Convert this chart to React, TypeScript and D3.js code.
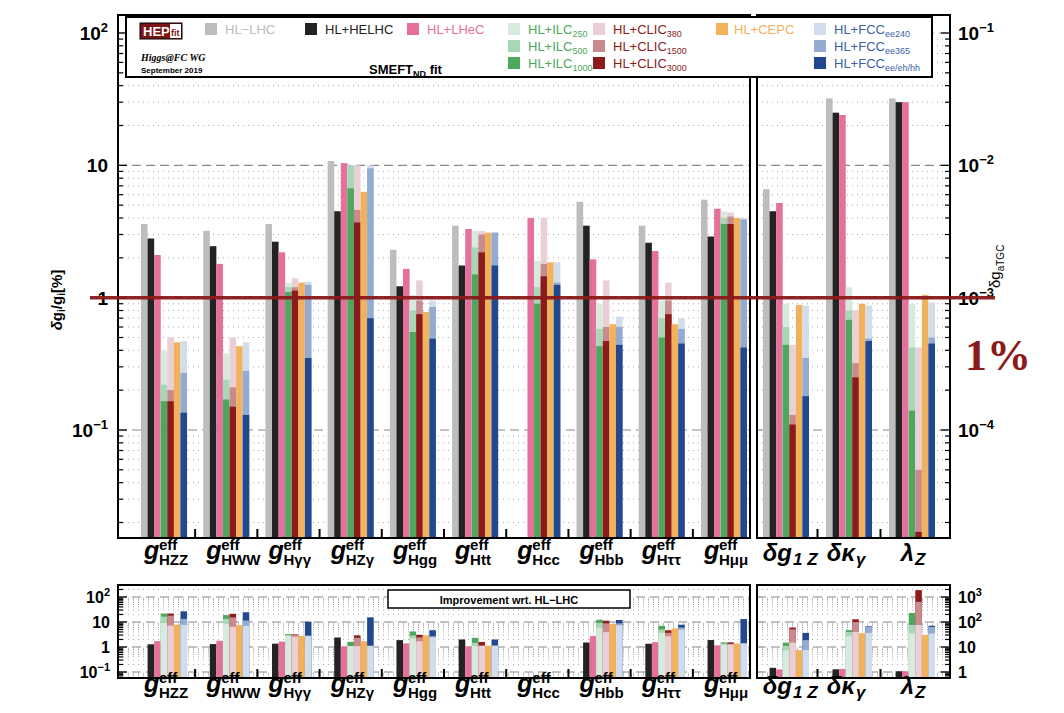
import React from "react";
import * as d3 from "d3";

// groups: HZZ HWW Hγγ HZγ Hgg Htt Hcc Hbb Hττ Hμμ (left) + δg1Z δκγ λZ (right)
const labelsMain = ["HZZ", "HWW", "Hγγ", "HZγ", "Hgg", "Htt", "Hcc", "Hbb", "Hττ", "Hμμ"];
const labelsTGC = [["δg", "1 Z"], ["δκ", "γ"], ["λ", "Z"]];
const hllhc = [3.6, 3.2, 3.6, 10.8, 2.3, 3.5, NaN, 5.3, 3.5, 5.5, 6.6, 32, 32];
const helhc = [2.8, 2.45, 2.65, 4.5, 1.22, 1.75, NaN, 3.5, 2.6, 2.9, 4.5, 25, 30];
const lhec = [2.1, 1.8, 2.2, 10.4, 1.65, 3.3, 4.0, 1.95, 2.25, 4.7, 5.2, 24, 30];
const ilc250 = [0.4, 0.38, 1.3, 10, 1.05, 3.2, 1.9, 0.9, 0.95, 4.5, 0.9, 1.2, 0.9];
const ilc500 = [0.22, 0.24, 1.2, 10, 0.8, 2.4, 1.2, 0.58, 0.7, 4.0, 0.6, 0.8, 0.42];
const ilc1000 = [0.165, 0.17, 1.1, 6.7, 0.55, 1.5, 0.9, 0.43, 0.5, 3.6, 0.44, 0.68, 0.14];
const clic380 = [0.5, 0.5, 1.4, 10, 1.35, 3.2, 4.0, 1.35, 1.3, 4.4, 0.44, 0.8, 0.42];
const clic1500 = [0.2, 0.21, 1.2, 4.6, 0.95, 3.0, 1.8, 0.6, 0.95, 4.1, 0.13, 0.32, 0.05];
const clic3000 = [0.165, 0.15, 1.13, 3.7, 0.75, 2.2, 1.45, 0.47, 0.75, 3.6, 0.11, 0.25, 0.017];
const cepc = [0.46, 0.43, 1.3, 6.3, 0.78, 3.1, 1.85, 0.63, 0.63, 4.0, 0.88, 0.9, 1.05];
const fcc240 = [0.47, 0.46, 1.32, 10, 0.95, 3.1, 1.85, 0.72, 0.7, 4.0, 0.87, 0.87, 0.92];
const fcc365 = [0.27, 0.28, 1.25, 9.5, 0.85, 3.1, 1.3, 0.6, 0.58, 3.9, 0.35, 0.49, 0.5];
const fccAll = [0.135, 0.13, 0.35, 0.7, 0.49, 1.75, 1.25, 0.44, 0.45, 0.42, 0.18, 0.47, 0.45];

const C = {
  lhc: "#bdbdbd", he: "#232323", lhec: "#e4709b",
  ilc: ["#d6ebdd", "#a6d8b5", "#4da75c"],
  clic: ["#ead0d6", "#c98a8e", "#8c1b1c"],
  cepc: "#f2b15b",
  fcc: ["#d2ddeb", "#93abd2", "#22498f"],
};

export default function App() {
  const W = 1064, H = 713;
  const L0 = 118, L1 = 750, R0 = 757, R1 = 950;
  const T = 15, B = 538;
  const bT = 585, bB = 678;
  const xL = d3.scaleBand<number>().domain(d3.range(10)).range([141, 747]).paddingInner(0.26).paddingOuter(0);
  const xR = d3.scaleBand<number>().domain([10, 11, 12]).range([763, 935]).paddingInner(0.27).paddingOuter(0);
  const gx = (i: number) => (i < 10 ? xL(i)! : xR(i)!);
  const gw = (i: number) => (i < 10 ? xL.bandwidth() : xR.bandwidth());
  const slot = (i: number) => d3.scaleBand<number>().domain(d3.range(7)).range([gx(i), gx(i) + gw(i)]);
  const y = d3.scaleLog().domain([0.01527, 136.8]).range([B, T]);
  const ybL = d3.scaleLog().domain([0.0575, 302]).range([bB, bT]);
  const ybR = d3.scaleLog().domain([0.575, 3020]).range([bB, bT]);

  const bars: any[] = [];
  const bbars: any[] = [];
  for (let i = 0; i < 13; i++) {
    const s = slot(i);
    const w = s.bandwidth();
    const add = (k: number, v: number, col: string) => {
      if (!isFinite(v)) return;
      bars.push(<rect key={`m${i}-${bars.length}`} x={s(k)} y={y(v)} width={w} height={B - y(v)} fill={col} />);
    };
    add(0, hllhc[i], C.lhc);
    add(1, helhc[i], C.he);
    add(2, lhec[i], C.lhec);
    [ilc250, ilc500, ilc1000].forEach((a, j) => add(3, a[i], C.ilc[j]));
    [clic380, clic1500, clic3000].forEach((a, j) => add(4, a[i], C.clic[j]));
    add(5, cepc[i], C.cepc);
    [fcc240, fcc365, fccAll].forEach((a, j) => add(6, a[i], C.fcc[j]));
    const ref = hllhc[i];
    if (isFinite(ref)) {
      const yb = i < 10 ? ybL : ybR;
      const addb = (k: number, v: number, col: string) => {
        const top = Math.max(yb(ref / v), bT);
        bbars.push(<rect key={`b${i}-${bbars.length}`} x={s(k)} y={top} width={w} height={bB - top} fill={col} />);
      };
      addb(1, helhc[i], C.he);
      addb(2, lhec[i], C.lhec);
      [ilc1000, ilc500, ilc250].forEach((a, j) => addb(3, a[i], C.ilc[2 - j]));
      [clic3000, clic1500, clic380].forEach((a, j) => addb(4, a[i], C.clic[2 - j]));
      addb(5, cepc[i], C.cepc);
      [fccAll, fcc365, fcc240].forEach((a, j) => addb(6, a[i], C.fcc[2 - j]));
    }
  }

  const grid = (sc: any, x0: number, x1: number, lo: number, hi: number, key: string) => {
    const out: any[] = [];
    for (let e = lo; e <= hi; e++) for (let m = 1; m <= 9; m++) {
      const yy = sc(m * Math.pow(10, e));
      if (yy < sc.range()[1] || yy > sc.range()[0]) continue;
      out.push(<line key={`${key}${e}-${m}`} x1={x0} x2={x1} y1={yy} y2={yy}
        stroke={m === 1 ? "#888" : "#aaa"} strokeWidth={m === 1 ? 1.2 : 1}
        strokeDasharray={m === 1 ? "9,5" : "1,4"} />);
    }
    return out;
  };
  const ticks = (sc: any, x: number, dir: number, lo: number, hi: number, key: string) => {
    const out: any[] = [];
    for (let e = lo; e <= hi; e++) for (let m = 1; m <= 9; m++) {
      const yy = sc(m * Math.pow(10, e));
      if (yy < sc.range()[1] || yy > sc.range()[0]) continue;
      out.push(<line key={`${key}${e}-${m}`} x1={x} x2={x + dir * (m === 1 ? 9 : 5)} y1={yy} y2={yy} stroke="#000" strokeWidth={1.2} />);
    }
    return out;
  };

  const xLabel = (i: number, yy: number, key: string) => {
    const cx = gx(i) + gw(i) / 2;
    if (i < 10) {
      return (
        <g key={key} fontFamily="Liberation Sans, Arial" fontWeight="bold">
          <text x={cx - 20} y={yy + 6} fontSize={25} fontStyle="italic">g</text>
          <text x={cx - 5} y={yy - 3} fontSize={15}>eff</text>
          <text x={cx - 5} y={yy + 12} fontSize={15}>{labelsMain[i]}</text>
        </g>
      );
    }
    const m = labelsTGC[i - 10];
    return (
      <g key={key} fontFamily="Liberation Sans, Arial" fontWeight="bold" fontStyle="italic">
        <text x={cx + (i === 12 ? 2 : 6)} y={yy + 8} fontSize={24} textAnchor="end">{m[0]}</text>
        <text x={cx + (i === 12 ? 3 : 7)} y={yy + 12} fontSize={17}>{m[1]}</text>
      </g>
    );
  };

  const tickBottom = (yy: number) => {
    const out: any[] = [];
    for (let k = 0; k < 12; k++) {
      if (k === 9) continue;
      const xx = (gx(k) + gw(k) + gx(k + 1)) / 2;
      out.push(<line key={`tb${yy}${k}`} x1={xx} x2={xx} y1={yy} y2={yy - 9} stroke="#000" strokeWidth={2} />);
    }
    return out;
  };

  const legendItems: [number, number, string, string][] = [
    [205, 30, C.lhc, "HL−LHC"],
    [305, 30, C.he, "HL+HELHC"],
    [407, 30, C.lhec, "HL+LHeC"],
  ];
  const multi: [number, string[], string, string, string][] = [
    [508, C.ilc, "HL+ILC", "#4da75c", "250,500,1000"],
    [593, C.clic, "HL+CLIC", "#8c1b1c", "380,1500,3000"],
    [814, C.fcc, "HL+FCC", "#3a5fa3", "ee240,ee365,ee/eh/hh"],
  ];

  return (
    <svg width={W} height={H} style={{ position: "absolute", left: 0, top: 0, background: "#fff" }}>
      {grid(y, L0, L1, -2, 2, "gl")}
      {grid(y, R0, R1, -2, 2, "gr")}
      {grid(ybL, L0, L1, -2, 2, "bl")}
      {grid(ybR, R0, R1, -1, 3, "br")}
      {bars}
      {bbars}
      {ticks(y, L0, 1, -2, 2, "tl")}
      {ticks(y, R1, -1, -2, 2, "tr")}
      {ticks(ybL, L0, 1, -2, 2, "tbl")}
      {ticks(ybR, R1, -1, -1, 3, "tbr")}
      {tickBottom(B)}
      {tickBottom(bB)}
      <rect x={L0} y={T} width={L1 - L0} height={B - T} fill="none" stroke="#000" strokeWidth={2} />
      <rect x={R0} y={T} width={R1 - R0} height={B - T} fill="none" stroke="#000" strokeWidth={2} />
      <rect x={L0} y={bT} width={L1 - L0} height={bB - bT} fill="none" stroke="#000" strokeWidth={2} />
      <rect x={R0} y={bT} width={R1 - R0} height={bB - bT} fill="none" stroke="#000" strokeWidth={2} />

      <g fontFamily="Liberation Sans, Arial" fontWeight="bold" fontSize={19} textAnchor="end">
        <text x={108} y={y(100) + 7}>10<tspan dy={-8} fontSize={13}>2</tspan></text>
        <text x={108} y={y(10) + 7}>10</text>
        <text x={108} y={y(1) + 7}>1</text>
        <text x={108} y={y(0.1) + 7}>10<tspan dy={-8} fontSize={13}>−1</tspan></text>
      </g>
      <g fontFamily="Liberation Sans, Arial" fontWeight="bold" fontSize={19}>
        {([["−1", 100], ["−2", 10], ["−3", 1], ["−4", 0.1]] as [string, number][]).map(([e, v]) => (
          <text key={e} x={958} y={y(v) + 7}>10<tspan dy={-8} fontSize={13}>{e}</tspan></text>
        ))}
      </g>
      <g fontFamily="Liberation Sans, Arial" fontWeight="bold" fontSize={16} textAnchor="end">
        <text x={110} y={ybL(100) + 6}>10<tspan dy={-7} fontSize={11}>2</tspan></text>
        <text x={110} y={ybL(10) + 6}>10</text>
        <text x={110} y={ybL(1) + 6}>1</text>
        <text x={110} y={ybL(0.1) + 6}>10<tspan dy={-7} fontSize={11}>−1</tspan></text>
      </g>
      <g fontFamily="Liberation Sans, Arial" fontWeight="bold" fontSize={16}>
        <text x={958} y={ybR(1000) + 6}>10<tspan dy={-7} fontSize={11}>3</tspan></text>
        <text x={958} y={ybR(100) + 6}>10<tspan dy={-7} fontSize={11}>2</tspan></text>
        <text x={958} y={ybR(10) + 6}>10</text>
        <text x={958} y={ybR(1) + 6}>1</text>
      </g>
      <text transform="translate(62,300) rotate(-90)" textAnchor="middle" fontFamily="Liberation Sans, Arial" fontWeight="bold" fontSize={15}>
        <tspan fontStyle="italic">δ</tspan>g<tspan fontSize={10} dy={3}>i</tspan><tspan dy={-3}>/g</tspan><tspan fontSize={10} dy={3}>i</tspan><tspan dy={-3}>[%]</tspan>
      </text>
      <text transform="translate(1000,288) rotate(-90)" fontFamily="Liberation Sans, Arial" fontSize={15}>
        δg<tspan fontSize={10} dy={4}>aTGC</tspan>
      </text>

      {d3.range(13).map((i) => xLabel(i, 553, `xl${i}`))}
      {d3.range(13).map((i) => xLabel(i, 686, `xb${i}`))}

      <rect x={126} y={17} width={806} height={60} fill="#fff" stroke="#000" strokeWidth={2} />
      <rect x={140} y={23} width={42} height={16} fill="#7a1616" stroke="#000" />
      <text x={143} y={36} fill="#fff" fontFamily="Liberation Sans, Arial" fontWeight="bold" fontSize={13}>HEP</text>
      <rect x={170} y={24} width={11} height={14} fill="#fff" />
      <text x={171} y={36} fill="#7a1616" fontFamily="Liberation Sans, Arial" fontWeight="bold" fontSize={9}>fit</text>
      <text x={141} y={61} fontFamily="Liberation Serif" fontStyle="italic" fontWeight="bold" fontSize={10}>Higgs@FC WG</text>
      <text x={141} y={73} fontFamily="Liberation Sans, Arial" fontWeight="bold" fontSize={8}>September 2019</text>
      <text x={369} y={74} fontFamily="Liberation Sans, Arial" fontWeight="bold" fontSize={13}>SMEFT<tspan fontSize={9} dy={3}>ND</tspan><tspan dy={-3}> fit</tspan></text>
      <g fontFamily="Liberation Sans, Arial" fontSize={13}>
        {legendItems.map(([x, yy, c, t]) => (
          <g key={t}>
            <rect x={x} y={yy - 7} width={12} height={12} fill={c} />
            <text x={x + 20} y={yy + 4} fill={c === C.he ? "#222" : c}>{t}</text>
          </g>
        ))}
        <rect x={716} y={23} width={12} height={12} fill={C.cepc} />
        <text x={734} y={34} fill={C.cepc}>HL+CEPC</text>
        {multi.map(([x, cols, name, tc, subs]) => subs.split(",").map((sb, j) => (
          <g key={`${x}${j}`}>
            <rect x={x} y={23 + j * 17} width={12} height={12} fill={cols[j]} />
            <text x={x + 20} y={34 + j * 17} fill={tc}>{name}<tspan fontSize={9} dy={3}>{sb}</tspan></text>
          </g>
        )))}
      </g>

      <rect x={388} y={590} width={242} height={18} fill="#fff" stroke="#000" strokeWidth={1.5} />
      <text x={509} y={604} textAnchor="middle" fontFamily="Liberation Sans, Arial" fontWeight="bold" fontSize={11}>Improvement wrt. HL−LHC</text>

      <line x1={90} x2={995} y1={y(1)} y2={y(1)} stroke="#8b1a1a" strokeWidth={3.5} opacity={0.95} />
      <text x={965} y={370} fill="#8b1a1a" fontFamily="Liberation Serif" fontWeight="bold" fontSize={44}>1%</text>
    </svg>
  );
}
